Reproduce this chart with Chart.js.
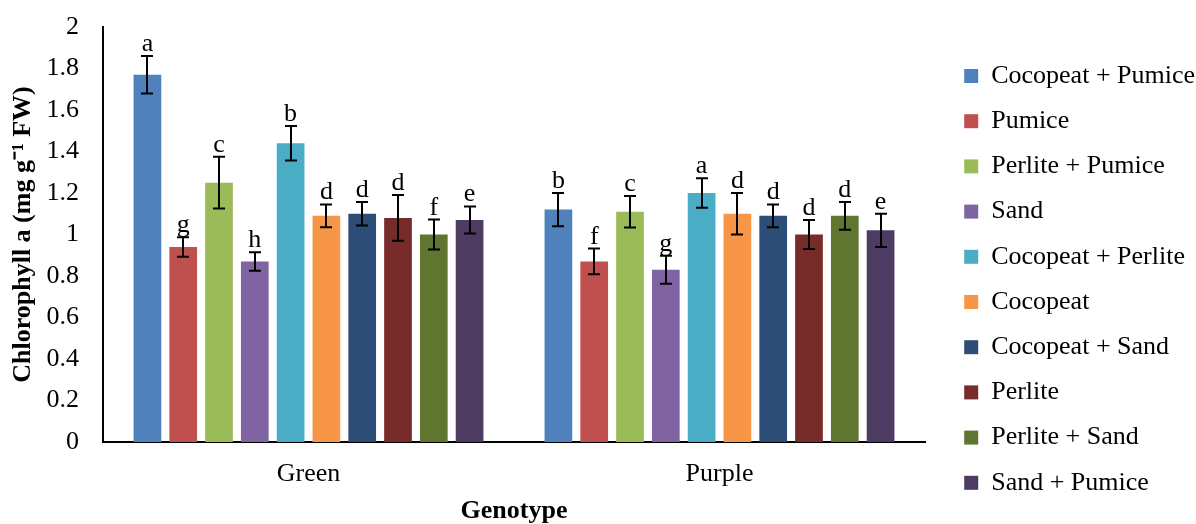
<!DOCTYPE html>
<html><head><meta charset="utf-8">
<script src="https://cdn.jsdelivr.net/npm/chart.js@4/dist/chart.umd.min.js"></script>
<style>html,body{margin:0;padding:0;background:#fff;}</style>
</head><body>
<canvas id="c" width="1196" height="524"></canvas>
<script>
const genotypes = ['Green', 'Purple'];
const substrates = ['Cocopeat + Pumice', 'Pumice', 'Perlite + Pumice', 'Sand', 'Cocopeat + Perlite',
  'Cocopeat', 'Cocopeat + Sand', 'Perlite', 'Perlite + Sand', 'Sand + Pumice'];
const colors = ['#4F81BD', '#C0504D', '#9BBB59', '#8064A2', '#4BACC6',
  '#F79646', '#2C4D75', '#772C2A', '#5F7530', '#4D3B62'];
const greenValues = [1.77, 0.94, 1.25, 0.87, 1.44, 1.09, 1.10, 1.08, 1.00, 1.07];
const greenErrors = [0.09, 0.047, 0.125, 0.045, 0.083, 0.055, 0.057, 0.11, 0.072, 0.065];
const greenLetters = ['a', 'g', 'c', 'h', 'b', 'd', 'd', 'd', 'f', 'e'];
const purpleValues = [1.12, 0.87, 1.11, 0.83, 1.20, 1.10, 1.09, 1.00, 1.09, 1.02];
const purpleErrors = [0.08, 0.062, 0.076, 0.067, 0.071, 0.10, 0.055, 0.07, 0.067, 0.08];
const purpleLetters = ['b', 'f', 'c', 'g', 'a', 'd', 'd', 'd', 'd', 'e'];
const yTicks = { min: 0, max: 2, step: 0.2 };

const FONT = '"Liberation Serif", "Times New Roman", serif';

const datasets = substrates.map((name, i) => ({
  label: name,
  data: [greenValues[i], purpleValues[i]],
  errors: [greenErrors[i], purpleErrors[i]],
  letters: [greenLetters[i], purpleLetters[i]],
  backgroundColor: colors[i],
  borderWidth: 0,
  categoryPercentage: 0.871,
  barPercentage: 0.774
}));

const errorBarPlugin = {
  id: 'errorBars',
  afterDatasetsDraw(chart) {
    const ctx = chart.ctx;
    const ys = chart.scales.y;
    ctx.save();
    chart.data.datasets.forEach((ds, i) => {
      const meta = chart.getDatasetMeta(i);
      meta.data.forEach((bar, j) => {
        const v = ds.data[j], e = ds.errors[j];
        const top = ys.getPixelForValue(v + e);
        const bot = ys.getPixelForValue(v - e);
        const x = Math.round(bar.x);
        ctx.strokeStyle = '#000';
        ctx.lineWidth = 2;
        ctx.beginPath();
        ctx.moveTo(x, top); ctx.lineTo(x, bot);
        ctx.moveTo(x - 6, top); ctx.lineTo(x + 6, top);
        ctx.moveTo(x - 6, bot); ctx.lineTo(x + 6, bot);
        ctx.stroke();
        ctx.fillStyle = '#000';
        ctx.font = '26px ' + FONT;
        ctx.textAlign = 'center';
        ctx.textBaseline = 'alphabetic';
        ctx.fillText(ds.letters[j], bar.x, top - 5);
      });
    });
    ctx.restore();
  }
};

new Chart(document.getElementById('c'), {
  type: 'bar',
  data: { labels: genotypes, datasets },
  plugins: [errorBarPlugin],
  options: {
    responsive: false,
    devicePixelRatio: 1,
    animation: false,
    layout: { padding: { top: 27, bottom: 9, left: 0, right: 0 } },
    plugins: {
      tooltip: { enabled: false },
      legend: {
        position: 'right',
        align: 'end',
        maxWidth: 251,
        labels: {
          color: '#000',
          font: { family: FONT, size: 26 },
          boxWidth: 14,
          boxHeight: 14,
          padding: 19.2
        }
      }
    },
    scales: {
      x: {
        grid: { display: false, drawTicks: false },
        border: { display: true, color: '#000', width: 2 },
        ticks: { color: '#000', font: { family: FONT, size: 26 }, padding: 16.4 },
        title: { display: true, text: 'Genotype', color: '#000',
          font: { family: FONT, size: 26, weight: 'bold' }, padding: { top: 0, bottom: -11.6 } },
        afterFit(s) { s.height = 73; s.paddingLeft = 0; s.paddingRight = 0; }
      },
      y: {
        min: yTicks.min, max: yTicks.max,
        grid: { display: false, drawTicks: false },
        border: { display: true, color: '#000', width: 2 },
        ticks: { stepSize: yTicks.step, color: '#000', font: { family: FONT, size: 26 }, padding: 24,
          callback: (v) => String(Math.round(v * 10) / 10) },
        title: { display: true, text: 'Chlorophyll a (mg g\u207B\u00B9 FW)', color: '#000',
          font: { family: FONT, size: 26, weight: 'bold' }, padding: { top: 8, bottom: 0 } },
        afterFit(s) { s.width = 103; s.paddingTop = 0; s.paddingBottom = 0; }
      },
      gap: {
        type: 'linear', position: 'right', display: true,
        grid: { display: false, drawTicks: false },
        border: { display: false },
        ticks: { display: false },
        afterFit(s) { s.width = 20; s.paddingTop = 0; s.paddingBottom = 0; }
      }
    }
  }
});
</script>
</body></html>
